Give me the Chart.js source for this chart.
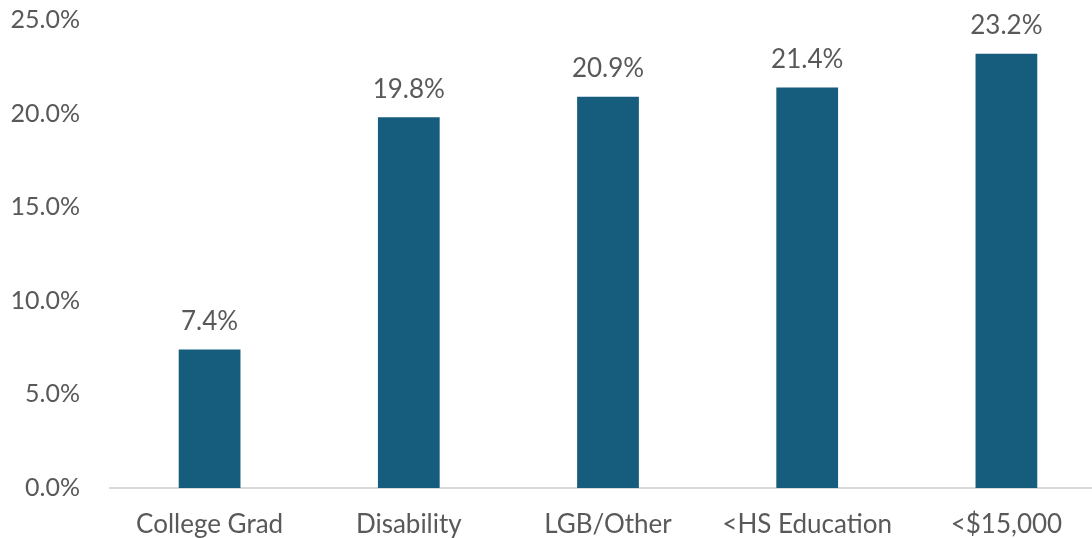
<!DOCTYPE html>
<html>
<head>
<meta charset="utf-8">
<script src="https://cdn.jsdelivr.net/npm/chart.js@4"></script>
<style>
  html, body { margin: 0; padding: 0; background: #fff; overflow: hidden; }
  #wrap { width: 1106px; height: 538px; }
</style>
</head>
<body>
<div id="wrap"><canvas id="chart"></canvas></div>
<script>
// values
const categories = ['College Grad', 'Disability', 'LGB/Other', '<HS Education', '<$15,000'];
const rates      = [7.4, 19.8, 20.9, 21.4, 23.2];
const yTicks     = [0, 5, 10, 15, 20, 25];

const TEXT = '#595959';
const FONT = 'Lato, "Noto Sans", sans-serif';

// ── labels above bars ─────────────────────────────
const barLabels = {
    id: 'barLabels',
    afterDatasetsDraw(chart) {
        const ctx = chart.ctx;
        const meta = chart.getDatasetMeta(0);
        ctx.save();
        ctx.fillStyle = TEXT;
        ctx.font = '26px ' + FONT;
        ctx.textAlign = 'center';
        ctx.textBaseline = 'bottom';
        meta.data.forEach((bar, i) => {
            ctx.fillText(rates[i].toFixed(1) + '%', bar.x, bar.y - 15);
        });
        ctx.restore();
    }
};

new Chart(document.getElementById('chart'), {
    type: 'bar',
    data: {
        labels: categories,
        datasets: [{
            data: rates,
            backgroundColor: '#165C7D',
            barPercentage: 0.31,
            categoryPercentage: 1.0,
        }],
    },
    options: {
        responsive: true,
        maintainAspectRatio: false,
        animation: false,
        layout: { padding: { top: 20, right: 0, left: 0, bottom: 0 } },
        plugins: { legend: { display: false }, tooltip: { enabled: false } },
        scales: {
            x: {
                grid: { display: false },
                border: { display: true, color: '#d9d9d9', width: 2 },
                ticks: { color: TEXT, font: { family: FONT, size: 26 }, padding: 13, maxRotation: 0 },
                afterFit: s => { s.height = 50; },
            },
            y: {
                min: 0,
                max: 25,
                grid: { display: false },
                border: { display: false },
                afterBuildTicks: s => { s.ticks = yTicks.map(v => ({ value: v })); },
                ticks: { color: TEXT, font: { family: FONT, size: 25 }, padding: 22,
                         callback: v => v.toFixed(1) + '%' },
                afterFit: s => { s.width = 110; s.paddingTop = 0; s.paddingBottom = 0; },
            },
        },
    },
    plugins: [barLabels],
});
</script>
</body>
</html>
